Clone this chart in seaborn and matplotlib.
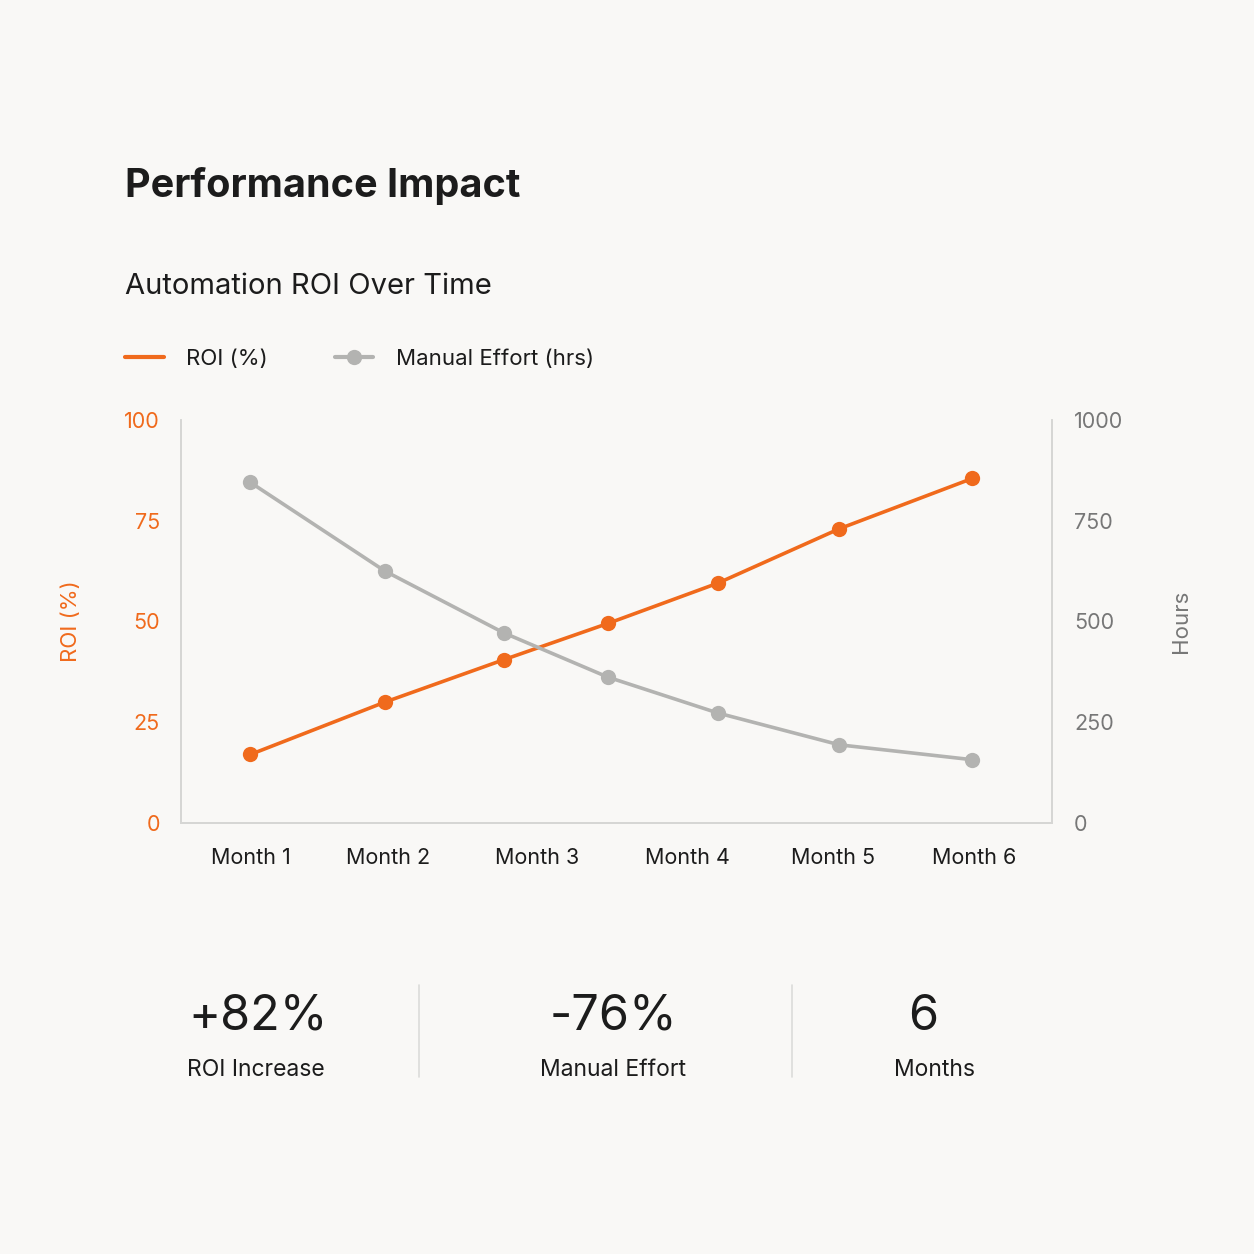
import matplotlib
matplotlib.use('Agg')
import matplotlib.pyplot as plt
import seaborn as sns
from matplotlib.lines import Line2D

# data
month_labels = ['Month 1', 'Month 2', 'Month 3', 'Month 4', 'Month 5', 'Month 6']
month_ticks = [1, 1.95, 2.98, 4.02, 5.03, 6]
point_pos = [1.0, 1.93, 2.75, 3.47, 4.23, 5.07, 5.99]
roi_pct = [17, 30, 40.5, 49.5, 59.5, 73, 85.5]
manual_hrs = [845, 625, 472, 362, 273, 194, 157]

stat_values = ['+82%', '-76%', '6']
stat_labels = ['ROI Increase', 'Manual Effort', 'Months']

BG = '#f9f8f6'
ORANGE = '#f06a1c'
GRAY = '#b3b3b1'
DARK = '#1c1c1c'

sns.set_theme(style='white')
plt.rcParams['font.family'] = ['Inter', 'DejaVu Sans']

fig = plt.figure(figsize=(12.54, 12.54), dpi=100, facecolor=BG)
ax = fig.add_axes([0.1443, 0.3437, 0.6946, 0.3214])
ax.set_facecolor(BG)

sns.lineplot(x=point_pos, y=roi_pct, ax=ax, color=ORANGE, linewidth=2.6,
             marker='o', markersize=11, markeredgewidth=0, zorder=3)
ax.set_xlim(0.52, 6.54)
ax.set_ylim(0, 100)
ax.set_yticks([0, 25, 50, 75, 100])
ax.set_xticks(month_ticks)
ax.set_xticklabels(month_labels, fontsize=15.5, color=DARK)
ax.tick_params(axis='y', colors=ORANGE, labelsize=15.5, length=0, pad=15)
ax.tick_params(axis='x', length=0, pad=18)
for lab in ax.get_yticklabels():
    lab.set_color(ORANGE)
ax.set_ylabel('ROI (%)', color=ORANGE, fontsize=16, labelpad=31)

ax2 = ax.twinx()
sns.lineplot(x=point_pos, y=manual_hrs, ax=ax2, color=GRAY, linewidth=2.6,
             marker='o', markersize=11, markeredgewidth=0, zorder=3)
ax2.set_ylim(0, 1000)
ax2.set_yticks([0, 250, 500, 750, 1000])
ax2.tick_params(axis='y', colors='#777777', labelsize=15.5, length=0, pad=16)
ax2.set_ylabel('Hours', color='#777777', fontsize=16, rotation=90, labelpad=34)

for a in (ax, ax2):
    a.spines['top'].set_visible(False)
    for s in ('left', 'right', 'bottom'):
        a.spines[s].set_color('#d6d6d4')
        a.spines[s].set_linewidth(1.2)
    a.grid(False)

# titles
fig.text(0.0997, 1 - 197 / 1254, 'Performance Impact', fontsize=28.5,
         fontweight='bold', color=DARK, va='baseline')
fig.text(0.0997, 1 - 294 / 1254, 'Automation ROI Over Time', fontsize=21,
         color=DARK, va='baseline')

# legend
handles = [
    Line2D([], [], color=ORANGE, linewidth=3),
    Line2D([], [], color=GRAY, linewidth=3, marker='o', markersize=11,
           markeredgewidth=0),
]
fig.legend(handles, ['ROI (%)', 'Manual Effort (hrs)'], loc='center left',
           bbox_to_anchor=(0.0997, 1 - 359 / 1254), ncol=2, frameon=False,
           fontsize=16, handlelength=1.75, handletextpad=1.0,
           columnspacing=3.0, borderpad=0, borderaxespad=0, labelcolor=DARK)

# stats
stat_x = [0.2057, 0.4896, 0.7360]
stat_lab_x = [0.2041, 0.4888, 0.7456]
for x, v in zip(stat_x, stat_values):
    fig.text(x, 1 - 1030 / 1254, v, fontsize=35, color=DARK, ha='center',
             va='baseline')
for x, l in zip(stat_lab_x, stat_labels):
    fig.text(x, 1 - 1076 / 1254, l, fontsize=16.5, color=DARK, ha='center',
             va='baseline')
for xd in (419 / 1254, 792 / 1254):
    fig.add_artist(Line2D([xd, xd], [1 - 985 / 1254, 1 - 1077 / 1254],
                          color='#dcdcda', linewidth=1.2))

fig.savefig('out.png', dpi=100, facecolor=BG)
